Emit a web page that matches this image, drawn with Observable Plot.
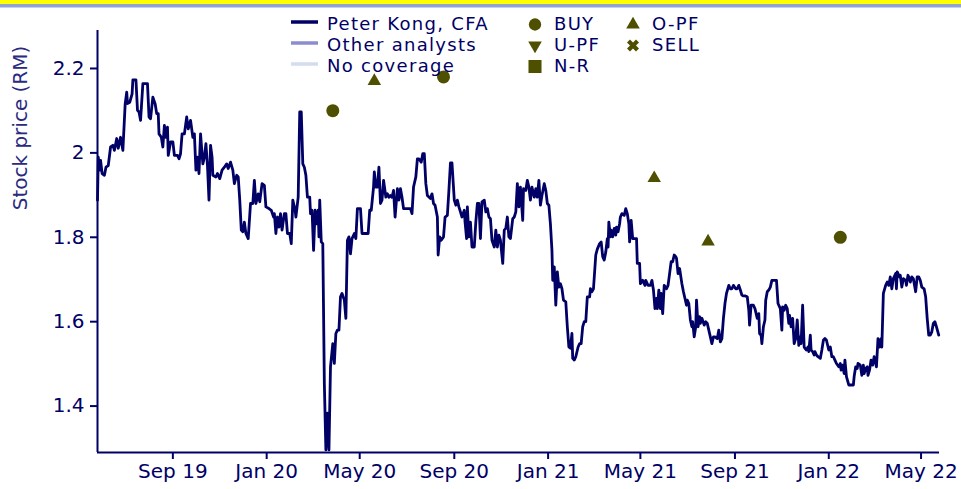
<!DOCTYPE html>
<html><head><meta charset="utf-8">
<script src="https://cdn.jsdelivr.net/npm/d3@7"></script>
<script src="https://cdn.jsdelivr.net/npm/@observablehq/plot@0.6"></script>
<style>html,body{margin:0;padding:0;background:#fff;overflow:hidden}#chart svg{display:block}</style>
</head><body><div id="chart"></div>
<script>
// ---- data ----
const dates = [
"2019-05-26","2019-05-27","2019-05-29","2019-05-30","2019-06-01","2019-06-04","2019-06-06","2019-06-09","2019-06-12","2019-06-15","2019-06-17","2019-06-20","2019-06-22","2019-06-25","2019-06-28",
"2019-07-01","2019-07-03","2019-07-04","2019-07-07","2019-07-10","2019-07-11","2019-07-15","2019-07-17","2019-07-19","2019-07-21","2019-07-24","2019-07-27","2019-07-30",
"2019-08-01","2019-08-03","2019-08-06","2019-08-09","2019-08-11","2019-08-13","2019-08-14","2019-08-17","2019-08-19","2019-08-21","2019-08-23","2019-08-25","2019-08-26","2019-08-29",
"2019-09-01","2019-09-03","2019-09-07","2019-09-09","2019-09-11","2019-09-13","2019-09-16","2019-09-19","2019-09-21","2019-09-24","2019-09-27","2019-09-29",
"2019-10-01","2019-10-03","2019-10-05","2019-10-07","2019-10-10","2019-10-12","2019-10-14","2019-10-16","2019-10-18","2019-10-20","2019-10-22","2019-10-23","2019-10-27","2019-10-29",
"2019-11-01","2019-11-04","2019-11-07","2019-11-10","2019-11-12","2019-11-15","2019-11-18","2019-11-20","2019-11-23","2019-11-25","2019-11-27","2019-11-29",
"2019-12-01","2019-12-03","2019-12-05","2019-12-08","2019-12-11","2019-12-14","2019-12-16","2019-12-18","2019-12-21","2019-12-23","2019-12-26","2019-12-29","2019-12-31",
"2020-01-04","2020-01-07","2020-01-10","2020-01-11","2020-01-13","2020-01-15","2020-01-17","2020-01-19","2020-01-21","2020-01-24","2020-01-26","2020-01-28","2020-01-31",
"2020-02-02","2020-02-04","2020-02-07","2020-02-08","2020-02-11","2020-02-13","2020-02-15","2020-02-17","2020-02-19","2020-02-21","2020-02-23","2020-02-26","2020-02-27","2020-02-29",
"2020-03-02","2020-03-04","2020-03-06","2020-03-08","2020-03-09","2020-03-10","2020-03-12","2020-03-14","2020-03-16","2020-03-18","2020-03-20","2020-03-22","2020-03-24","2020-03-27","2020-03-29","2020-03-31",
"2020-04-02","2020-04-04","2020-04-06","2020-04-08","2020-04-11","2020-04-13","2020-04-15","2020-04-17","2020-04-19","2020-04-21","2020-04-24","2020-04-26","2020-04-28",
"2020-05-02","2020-05-04","2020-05-07","2020-05-09","2020-05-12","2020-05-14","2020-05-16","2020-05-19","2020-05-20","2020-05-22","2020-05-24","2020-05-26","2020-05-28","2020-05-30",
"2020-06-01","2020-06-04","2020-06-06","2020-06-08","2020-06-10","2020-06-12","2020-06-14","2020-06-16","2020-06-19","2020-06-21","2020-06-23","2020-06-25","2020-06-27",
"2020-07-02","2020-07-06","2020-07-08","2020-07-10","2020-07-13","2020-07-15","2020-07-17","2020-07-20","2020-07-22","2020-07-24","2020-07-26","2020-07-28",
"2020-08-01","2020-08-03","2020-08-05","2020-08-07","2020-08-10","2020-08-11","2020-08-13","2020-08-15","2020-08-18","2020-08-20","2020-08-23","2020-08-25","2020-08-27","2020-08-29",
"2020-09-01","2020-09-03","2020-09-05","2020-09-07","2020-09-09","2020-09-11","2020-09-14","2020-09-15","2020-09-17","2020-09-18","2020-09-20","2020-09-22","2020-09-24","2020-09-27","2020-09-29",
"2020-10-01","2020-10-03","2020-10-05","2020-10-07","2020-10-10","2020-10-12","2020-10-14","2020-10-16","2020-10-18","2020-10-20","2020-10-23","2020-10-25","2020-10-27","2020-10-29","2020-10-31",
"2020-11-03","2020-11-05","2020-11-07","2020-11-09","2020-11-11","2020-11-13","2020-11-16","2020-11-18","2020-11-20","2020-11-22","2020-11-24","2020-11-26","2020-11-29","2020-11-30",
"2020-12-03","2020-12-05","2020-12-07","2020-12-09","2020-12-11","2020-12-14","2020-12-16","2020-12-18","2020-12-20","2020-12-22","2020-12-24","2020-12-27","2020-12-29","2020-12-31",
"2021-01-02","2021-01-04","2021-01-06","2021-01-07","2021-01-09","2021-01-11","2021-01-13","2021-01-15","2021-01-17","2021-01-19","2021-01-21","2021-01-24","2021-01-26","2021-01-28","2021-01-30",
"2021-02-01","2021-02-02","2021-02-04","2021-02-06","2021-02-09","2021-02-11","2021-02-13","2021-02-15","2021-02-17","2021-02-19","2021-02-21","2021-02-24","2021-02-25","2021-02-27",
"2021-03-01","2021-03-04","2021-03-06","2021-03-09","2021-03-11","2021-03-13","2021-03-15","2021-03-17","2021-03-19","2021-03-20","2021-03-21","2021-03-23","2021-03-24","2021-03-26","2021-03-28","2021-03-30","2021-03-31",
"2021-04-02","2021-04-04","2021-04-05","2021-04-07","2021-04-10","2021-04-12","2021-04-14","2021-04-16","2021-04-17","2021-04-19","2021-04-21","2021-04-24","2021-04-26","2021-04-27","2021-04-30",
"2021-05-01","2021-05-04","2021-05-07","2021-05-08","2021-05-11","2021-05-14","2021-05-16","2021-05-18","2021-05-20","2021-05-22","2021-05-23","2021-05-25","2021-05-27","2021-05-28","2021-05-30",
"2021-06-01","2021-06-04","2021-06-06","2021-06-08","2021-06-10","2021-06-12","2021-06-14","2021-06-16","2021-06-17","2021-06-19","2021-06-21","2021-06-23","2021-06-24","2021-06-26","2021-06-28","2021-06-30",
"2021-07-01","2021-07-03","2021-07-05","2021-07-07","2021-07-08","2021-07-10","2021-07-12","2021-07-13","2021-07-15","2021-07-17","2021-07-18","2021-07-20","2021-07-23","2021-07-25","2021-07-27","2021-07-29","2021-07-31",
"2021-08-02","2021-08-04","2021-08-06","2021-08-09","2021-08-11","2021-08-13","2021-08-15","2021-08-17","2021-08-19","2021-08-21","2021-08-24","2021-08-26","2021-08-28","2021-08-30",
"2021-09-02","2021-09-04","2021-09-06","2021-09-08","2021-09-10","2021-09-12","2021-09-14","2021-09-17","2021-09-19","2021-09-20","2021-09-22","2021-09-25","2021-09-27","2021-09-30",
"2021-10-02","2021-10-03","2021-10-05","2021-10-06","2021-10-08","2021-10-10","2021-10-11","2021-10-13","2021-10-15","2021-10-17","2021-10-19","2021-10-22","2021-10-25","2021-10-27","2021-10-29","2021-10-30",
"2021-11-01","2021-11-02","2021-11-04","2021-11-06","2021-11-08","2021-11-10","2021-11-11","2021-11-13","2021-11-15","2021-11-17","2021-11-19","2021-11-21","2021-11-23","2021-11-24","2021-11-26","2021-11-28","2021-11-30",
"2021-12-01","2021-12-03","2021-12-05","2021-12-06","2021-12-08","2021-12-09","2021-12-11","2021-12-13","2021-12-14","2021-12-16","2021-12-18","2021-12-21","2021-12-23","2021-12-25","2021-12-27","2021-12-29",
"2022-01-01","2022-01-03","2022-01-05","2022-01-07","2022-01-09","2022-01-11","2022-01-14","2022-01-16","2022-01-17","2022-01-19","2022-01-21","2022-01-22","2022-01-24","2022-01-27","2022-01-29","2022-01-31",
"2022-02-02","2022-02-03","2022-02-05","2022-02-07","2022-02-08","2022-02-11","2022-02-13","2022-02-15","2022-02-16","2022-02-18","2022-02-20","2022-02-21","2022-02-23","2022-02-25","2022-02-27",
"2022-03-01","2022-03-03","2022-03-04","2022-03-06","2022-03-08","2022-03-10","2022-03-11","2022-03-13","2022-03-16","2022-03-18","2022-03-20","2022-03-22","2022-03-24","2022-03-26","2022-03-29","2022-03-30","2022-03-31",
"2022-04-03","2022-04-04","2022-04-06","2022-04-08","2022-04-11","2022-04-12","2022-04-14","2022-04-16","2022-04-17","2022-04-19","2022-04-21","2022-04-24","2022-04-26","2022-04-28","2022-04-30",
"2022-05-02","2022-05-05","2022-05-07","2022-05-09","2022-05-11","2022-05-13","2022-05-15","2022-05-17","2022-05-19","2022-05-21","2022-05-24"
];
const prices = [
1.888,1.990,1.959,1.982,1.951,1.947,1.966,1.970,2.014,2.018,2.006,2.034,2.011,2.037,2.006,
2.116,2.144,2.117,2.120,2.140,2.173,2.173,2.101,2.097,2.077,2.164,2.164,2.164,
2.085,2.081,2.132,2.116,2.093,2.093,2.045,2.037,2.014,2.065,2.037,2.061,1.994,2.026,
2.026,1.994,1.994,1.986,1.998,2.045,2.045,2.085,2.057,2.077,2.037,2.045,
1.959,1.990,1.951,2.045,1.974,1.990,2.022,1.970,1.888,2.018,1.990,1.947,1.943,1.951,
1.939,1.959,1.966,1.974,1.963,1.978,1.959,1.927,1.947,1.943,1.888,1.817,
1.813,1.836,1.809,1.797,1.880,1.880,1.935,1.880,1.903,1.884,1.927,1.923,1.872,
1.868,1.864,1.848,1.856,1.809,1.848,1.824,1.856,1.817,1.856,1.856,1.809,1.809,
1.785,1.888,1.864,1.848,1.895,2.097,2.097,1.974,1.966,1.947,1.895,1.895,1.856,1.864,
1.769,1.864,1.832,1.864,1.801,1.888,1.789,1.785,1.454,1.296,1.383,1.296,1.493,1.548,1.501,1.572,
1.580,1.580,1.659,1.667,1.651,1.608,1.793,1.801,1.761,1.797,1.809,1.797,1.868,
1.868,1.809,1.809,1.809,1.809,1.864,1.864,1.919,1.955,1.919,1.919,1.966,1.880,1.888,
1.935,1.895,1.903,1.895,1.899,1.895,1.911,1.848,1.915,1.888,1.915,1.895,1.868,
1.868,1.868,1.856,1.919,1.943,1.986,1.986,1.978,1.998,1.998,1.927,1.899,
1.892,1.903,1.880,1.876,1.848,1.758,1.801,1.793,1.801,1.848,1.852,1.911,1.976,1.976,
1.888,1.876,1.888,1.872,1.860,1.848,1.864,1.836,1.797,1.872,1.801,1.836,1.777,1.777,1.836,
1.880,1.880,1.797,1.884,1.888,1.860,1.868,1.848,1.844,1.793,1.777,1.817,1.777,1.805,1.793,
1.738,1.817,1.821,1.848,1.801,1.797,1.844,1.848,1.860,1.927,1.872,1.919,1.840,1.915,
1.911,1.935,1.919,1.888,1.919,1.895,1.915,1.895,1.935,1.876,1.899,1.927,1.911,1.880,
1.876,1.832,1.769,1.698,1.730,1.639,1.718,1.682,1.690,1.678,1.651,1.647,1.588,1.540,1.537,
1.572,1.513,1.509,1.517,1.540,1.548,1.548,1.588,1.600,1.600,1.659,1.659,1.678,1.671,
1.678,1.758,1.772,1.785,1.789,1.754,1.746,1.765,1.797,1.777,1.836,1.801,1.817,1.801,1.821,1.805,1.824,
1.813,1.832,1.848,1.856,1.852,1.868,1.856,1.832,1.789,1.840,1.797,1.797,1.797,1.738,1.738,
1.690,1.698,1.686,1.698,1.686,1.686,1.698,1.675,1.631,1.655,1.631,1.675,1.631,1.667,1.619,
1.686,1.678,1.686,1.714,1.742,1.742,1.758,1.754,1.750,1.714,1.726,1.702,1.690,1.671,1.655,1.639,
1.651,1.643,1.604,1.588,1.600,1.564,1.588,1.651,1.588,1.612,1.596,1.608,1.592,1.600,1.596,1.580,1.564,
1.548,1.564,1.564,1.560,1.580,1.552,1.560,1.608,1.643,1.667,1.686,1.678,1.678,1.686,
1.678,1.678,1.686,1.675,1.663,1.661,1.661,1.659,1.627,1.592,1.639,1.639,1.631,1.608,
1.619,1.572,1.568,1.548,1.588,1.604,1.651,1.671,1.675,1.682,1.698,1.698,1.698,1.643,1.635,1.631,
1.580,1.635,1.627,1.639,1.631,1.596,1.615,1.588,1.608,1.548,1.560,1.604,1.544,1.564,1.548,1.639,1.540,
1.537,1.533,1.540,1.529,1.568,1.533,1.529,1.521,1.529,1.521,1.517,1.513,1.533,1.556,1.560,1.556,
1.533,1.540,1.517,1.517,1.509,1.501,1.493,1.501,1.485,1.497,1.477,1.509,1.470,1.450,1.450,1.450,
1.450,1.470,1.493,1.489,1.501,1.497,1.473,1.497,1.477,1.489,1.493,1.473,1.485,1.509,1.497,
1.517,1.501,1.493,1.560,1.540,1.560,1.540,1.667,1.686,1.694,1.686,1.706,1.678,1.702,1.714,1.678,1.718,
1.706,1.710,1.682,1.702,1.698,1.686,1.710,1.702,1.694,1.706,1.702,1.671,1.706,1.706,1.698,
1.682,1.678,1.659,1.608,1.568,1.568,1.576,1.596,1.600,1.588,1.568
];
const ratingDates  = ["2020-03-27","2020-05-20","2020-08-18","2021-05-19","2021-07-28","2022-01-16"];
const ratingPrices = [2.10, 2.17, 2.18, 1.94, 1.79, 1.80];
const ratingTypes  = ["BUY","O-PF","BUY","O-PF","O-PF","BUY"];
const xDomain   = ["2019-05-26","2022-05-25"];
const yDomain   = [1.29, 2.29];
const yTicks    = [1.4, 1.6, 1.8, 2, 2.2];
const yTickLabels = ["1.4", "1.6", "1.8", "2", "2.2"];
const xTickDates = ["2019-09-01","2020-01-01","2020-05-01","2020-09-01","2021-01-01","2021-05-01","2021-09-01","2022-01-01","2022-05-01"];
const xTickLabels = ["Sep 19","Jan 20","May 20","Sep 20","Jan 21","May 21","Sep 21","Jan 22","May 22"];
const yLabel = "Stock price (RM)";
const legendLines   = ["Peter Kong, CFA","Other analysts","No coverage"];
const legendRatings = ["BUY","U-PF","N-R","O-PF","SELL"];

// ---- build ----
const navy = "#000066", olive = "#4f4f00";
const parse = d3.utcParse("%Y-%m-%d");
const series = dates.map((d,i)=>({date:parse(d), price:prices[i]}));
const ratings = ratingDates.map((d,i)=>({date:parse(d), price:ratingPrices[i], type:ratingTypes[i]}));
const xTicks = xTickDates.map(parse);
const font = "DejaVu Sans";

const chart = Plot.plot({
  width: 961, height: 489,
  marginLeft: 97, marginRight: 22, marginTop: 30, marginBottom: 37,
  style: {fontFamily: font, fontSize: "20px", color: navy, background: "#fff"},
  x: {type: "utc", domain: xDomain.map(parse)},
  y: {domain: yDomain},
  marks: [
    Plot.axisY({ticks: yTicks, tickFormat: d => yTickLabels[yTicks.indexOf(d)], tickSize: 7, tickPadding: 6, strokeWidth: 2, fill: navy, label: null, fontSize: 20}),
    Plot.axisX({ticks: xTicks, tickFormat: d => xTickLabels[xTicks.findIndex(t => +t === +d)], tickSize: 7, tickPadding: 4, strokeWidth: 2, fill: navy, label: null, fontSize: 20}),
    Plot.ruleX([parse(xDomain[0])], {stroke: navy, strokeWidth: 2}),
    Plot.ruleY([yDomain[0]], {stroke: navy, strokeWidth: 2}),
    Plot.line(series, {x: "date", y: "price", stroke: navy, strokeWidth: 2.8}),
    Plot.dot(ratings, {filter: d => d.type === "BUY", x: "date", y: "price", symbol: "circle", r: 6.5, fill: olive, stroke: "none"}),
    Plot.dot(ratings, {filter: d => d.type === "O-PF", x: "date", y: "price", symbol: "triangle", r: 5, fill: olive, stroke: "none"})
  ]
});
document.getElementById("chart").appendChild(chart);

// ---- decorations: header band, y label, legend ----
const svg = d3.select(chart);
svg.append("rect").attr("x",0).attr("y",0).attr("width",961).attr("height",4).attr("fill","#ffff00");
svg.append("rect").attr("x",0).attr("y",4).attr("width",961).attr("height",3.5).attr("fill","#8fa3d6");

svg.append("text").attr("transform","translate(27,128) rotate(-90)")
  .attr("text-anchor","middle").attr("font-family",font).attr("font-size",20)
  .attr("fill","#2a2a80").text(yLabel);

const lg = svg.append("g").attr("font-family",font).attr("font-size",18).attr("fill",navy)
  .attr("text-anchor","start").attr("letter-spacing","1.3px");
const lineColors = [navy, "#8c8cd0", "#d3ddf2"];
const rowY = [22, 43, 64];
legendLines.forEach((t,i)=>{
  lg.append("line").attr("x1",291).attr("x2",318).attr("y1",rowY[i]).attr("y2",rowY[i])
    .attr("stroke",lineColors[i]).attr("stroke-width",3.5);
  lg.append("text").attr("x",327).attr("y",rowY[i]+8).text(t);
});
const symPos = [[535,0,d3.symbolCircle,120,0],[535,1,d3.symbolTriangle,80,180],[535,2,d3.symbolSquare,170,0],[633,0,d3.symbolTriangle,80,0],[633,1,d3.symbolCross,90,45]];
legendRatings.forEach((t,i)=>{
  const [x,row,sym,size,rot] = symPos[i];
  const cy = rowY[row] + 2.5;
  lg.append("path").attr("d", d3.symbol(sym, size)())
    .attr("transform",`translate(${x},${cy}) rotate(${rot})`).attr("fill",olive);
  lg.append("text").attr("x", x + 19).attr("y", rowY[row]+8).text(t);
});
</script>
</body></html>
